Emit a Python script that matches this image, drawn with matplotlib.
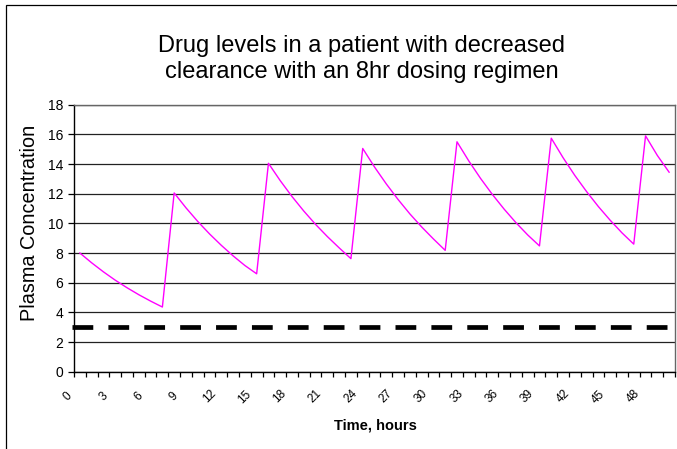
import matplotlib
matplotlib.use("Agg")
import matplotlib.pyplot as plt
from matplotlib.patches import Rectangle
from matplotlib.transforms import ScaledTranslation

plt.rcParams['font.family'] = ['Liberation Sans', 'DejaVu Sans']

# Data (hours 0..50)
hours = list(range(51))
concentration = [
    8.00, 7.34, 6.73, 6.17, 5.66, 5.19, 4.76, 4.36,
    12.05, 11.05, 10.13, 9.29, 8.52, 7.81, 7.16, 6.60,
    14.05, 12.88, 11.81, 10.83, 9.93, 9.11, 8.35, 7.62,
    15.05, 13.80, 12.66, 11.61, 10.64, 9.76, 8.95, 8.18,
    15.50, 14.21, 13.03, 11.95, 10.96, 10.05, 9.22, 8.48,
    15.74, 14.43, 13.23, 12.14, 11.13, 10.21, 9.36, 8.60,
    15.90, 14.58, 13.45,
]
threshold = 3
y_ticks = [0, 2, 4, 6, 8, 10, 12, 14, 16, 18]
x_label_ticks = list(range(0, 49, 3))

title = "Drug levels in a patient with decreased\nclearance with an 8hr dosing regimen"
xlabel = "Time, hours"
ylabel = "Plasma Concentration"

W, H = 677, 449
fig = plt.figure(figsize=(W / 100, H / 100), dpi=100)
fig.patch.set_facecolor('white')

# outer chart border
fig.add_artist(Rectangle((6 / W, -0.02), 1.2, 1.02 - 5 / H, transform=fig.transFigure,
                         fill=False, edgecolor='black', linewidth=0.9))

left, right, top, bottom = 74, 675, 104.7, 371.7
ax = fig.add_axes([left / W, (H - bottom) / H, (right - left) / W, (bottom - top) / H])

ax.plot(hours, concentration, color='#FF00FF', linewidth=1.0, zorder=3)
ax.plot([-0.7, len(hours) - 0.6], [threshold, threshold], color='black', linewidth=3.4,
        dashes=(4.4, 3.2), zorder=4, clip_on=False, solid_capstyle='butt')

ax.set_xlim(-0.5, len(hours) - 0.5)
ax.set_ylim(0, 18)

ax.set_yticks(y_ticks)
ax.set_yticklabels([str(v) for v in y_ticks], fontsize=10)
ax.tick_params(axis='y', direction='out', length=4.3, width=0.9, pad=3.5, colors='black')
ax.yaxis.grid(True, color='#222222', linewidth=0.9)
ax.set_axisbelow(True)

# x ticks: marks between categories, labels every 3
ax.set_xticks([h - 0.5 for h in hours] + [hours[-1] + 0.5], minor=True)
ax.set_xticks(x_label_ticks)
ax.set_xticklabels([str(v) for v in x_label_ticks], fontsize=8.5, rotation=45,
                   ha='center', va='center')
ax.tick_params(axis='x', which='major', length=0, pad=18)
ax.tick_params(axis='x', which='minor', direction='out', length=3.3, width=0.9)
off = ScaledTranslation(-12 / 100, 0, fig.dpi_scale_trans)
for lbl in ax.get_xticklabels():
    lbl.set_transform(lbl.get_transform() + off)

for s in ['left', 'bottom']:
    ax.spines[s].set_color('black')
    ax.spines[s].set_linewidth(1.0)
for s in ['top', 'right']:
    ax.spines[s].set_color('#666666')
    ax.spines[s].set_linewidth(1.0)

fig.text(375.5 / W, 1 - 426 / H, xlabel, fontsize=10.5, fontweight='bold',
         ha='center', va='center')
fig.text(30 / W, 1 - 223 / H, ylabel, fontsize=14.3, rotation=90,
         ha='center', va='center')
fig.text(362 / W, 1 - 59 / H, title, fontsize=17, ha='center', va='center',
         linespacing=1.28)

fig.savefig('out.png', dpi=100, facecolor='white')
